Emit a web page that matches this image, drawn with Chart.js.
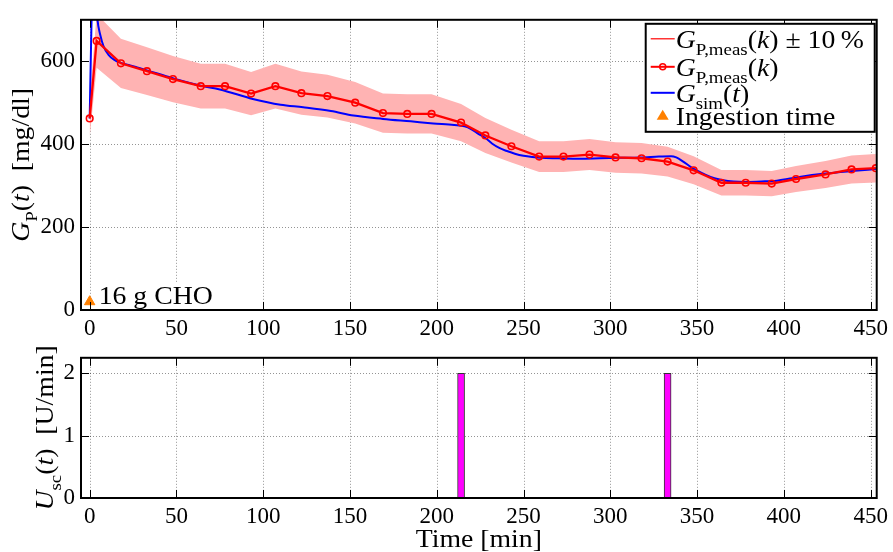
<!DOCTYPE html>
<html>
<head>
<meta charset="utf-8">
<script src="https://cdn.jsdelivr.net/npm/chart.js@4.4.1/dist/chart.umd.min.js"></script>
<style>
  html, body { margin: 0; padding: 0; background: #fff; }
  #glucose { position: absolute; left: 0; top: 0; }
  #insulin { position: absolute; left: 0; top: 338px; }
</style>
</head>
<body>
<canvas id="glucose" width="893" height="338"></canvas>
<canvas id="insulin" width="893" height="214"></canvas>
<script>
// measured plasma glucose, sampled roughly every 15 min
const measTime = [0, 4, 18, 33, 48, 64, 78, 93, 107, 122, 137, 153, 169, 183, 197, 214,
  228, 243, 259, 273, 288, 303, 318, 333, 348, 364, 378, 393, 407, 424, 439, 453];
const measValue = [462, 649, 595, 576, 557, 540, 540, 522, 540, 523, 516, 500, 475, 473, 473, 452,
  421, 395, 370, 370, 375, 368, 366, 358, 337, 307, 307, 305, 316, 327, 339, 342];

// simulated glucose curve
const simTime = [0, 0.8, 1.6, 2.5, 3.5, 4.5, 6, 8, 11, 14, 18, 25, 33, 48, 64, 75, 94, 110, 123,
  139, 152, 169, 185, 198, 210, 216, 220, 224, 228, 232, 236, 240, 245, 250, 255, 260, 270, 282,
  294, 305, 317, 328, 335, 338, 342, 346, 350, 355, 360, 365, 371, 378, 387, 396, 409, 424, 439, 453];
const simValue = [462, 640, 780, 800, 760, 700, 665, 636, 615, 604, 596, 588, 578, 559, 541, 532,
  509, 495, 489, 480, 469, 461, 455, 450, 446, 443, 436, 425, 415, 401, 391, 384, 377, 372, 369,
  367, 366, 365, 366, 367, 368, 370, 371, 368, 358, 346, 336, 326, 318, 313, 310, 309, 310, 312,
  321, 329, 335, 340];

// meal
const ingestTime = [0];
const ingestValue = [20];
const ingestLabel = '16 g CHO';

// subcutaneous insulin boluses
const insulinTime = [214, 333];
const insulinRate = [2, 2];

const xTicks = [0, 50, 100, 150, 200, 250, 300, 350, 400, 450];
const glucoseTicks = [0, 200, 400, 600];
const rateTicks = [0, 1, 2];

const SERIF = '"Liberation Serif", "Times New Roman", serif';
const STRETCH = 1.11;
const pts = (xs, ys, k = 1) => xs.map((t, i) => ({ x: t, y: ys[i] * k }));

// text with italic parts and subscripts: [text, 'r' | 'i' | 's'], a little widened
function setFont(ctx, style, size) {
  const s = style === 's' ? Math.round(size * 0.68) : size;
  ctx.font = (style === 'i' ? 'italic ' : '') + s + 'px ' + SERIF;
}
function richWidth(ctx, parts, size) {
  return parts.reduce((w, [t, st]) => { setFont(ctx, st, size); return w + ctx.measureText(t).width * STRETCH; }, 0);
}
function drawRich(ctx, parts, x, y, size) {
  let cx = x;
  parts.forEach(([t, st]) => {
    setFont(ctx, st, size);
    ctx.save();
    ctx.translate(cx, st === 's' ? y + size * 0.3 : y);
    ctx.scale(STRETCH, 1);
    ctx.fillText(t, 0, 0);
    ctx.restore();
    cx += ctx.measureText(t).width * STRETCH;
  });
}

// dotted grid under the data, inward ticks and a box over it
const frameAndTicks = {
  id: 'frameAndTicks',
  beforeDatasetsDraw(chart) {
    const { ctx, chartArea: a, scales: { x, y } } = chart;
    ctx.save();
    ctx.strokeStyle = 'rgba(0,0,0,0.42)';
    ctx.lineWidth = 1;
    ctx.setLineDash([1, 2]);
    ctx.beginPath();
    x.ticks.forEach((t) => {
      const px = Math.round(x.getPixelForValue(t.value)) + 0.5;
      ctx.moveTo(px, a.top); ctx.lineTo(px, a.bottom);
    });
    y.ticks.forEach((t) => {
      const py = Math.round(y.getPixelForValue(t.value)) + 0.5;
      ctx.moveTo(a.left, py); ctx.lineTo(a.right, py);
    });
    ctx.stroke();
    ctx.restore();
  },
  afterDatasetsDraw(chart) {
    const { ctx, chartArea: a, scales: { x, y } } = chart;
    ctx.save();
    ctx.strokeStyle = '#000';
    ctx.lineWidth = 1;
    ctx.beginPath();
    x.ticks.forEach((t) => {
      const px = Math.round(x.getPixelForValue(t.value)) + 0.5;
      ctx.moveTo(px, a.bottom); ctx.lineTo(px, a.bottom - 8);
      ctx.moveTo(px, a.top); ctx.lineTo(px, a.top + 8);
    });
    y.ticks.forEach((t) => {
      const py = Math.round(y.getPixelForValue(t.value)) + 0.5;
      ctx.moveTo(a.left, py); ctx.lineTo(a.left + 8, py);
      ctx.moveTo(a.right, py); ctx.lineTo(a.right - 8, py);
    });
    ctx.stroke();
    ctx.lineWidth = 2;
    ctx.strokeRect(a.left, a.top, a.right - a.left, a.bottom - a.top);
    ctx.restore();
  },
};

const yTitle = (parts, baseX) => ({
  id: 'yTitle',
  afterDraw(chart) {
    const { ctx, chartArea: a } = chart;
    const size = 25;
    ctx.save();
    ctx.fillStyle = '#000';
    ctx.textBaseline = 'alphabetic';
    ctx.translate(baseX, (a.top + a.bottom) / 2);
    ctx.rotate(-Math.PI / 2);
    drawRich(ctx, parts, -richWidth(ctx, parts, size) / 2, 0, size);
    ctx.restore();
  },
});

const xTitle = (text, baseY) => ({
  id: 'xTitle',
  afterDraw(chart) {
    const { ctx, chartArea: a } = chart;
    const parts = [[text, 'r']];
    ctx.save();
    ctx.fillStyle = '#000';
    drawRich(ctx, parts, (a.left + a.right) / 2 - richWidth(ctx, parts, 25) / 2, baseY, 25);
    ctx.restore();
  },
});

// meal note and the boxed legend of the glucose panel
const glucoseNotes = {
  id: 'glucoseNotes',
  afterDraw(chart) {
    const { ctx, chartArea: a, scales: { x } } = chart;
    ctx.save();
    const tx = x.getPixelForValue(ingestTime[0]) + 9;
    const note = [[ingestLabel, 'r']];
    const w = richWidth(ctx, note, 25);
    ctx.fillStyle = '#fff';
    ctx.fillRect(tx - 2, a.bottom - 27, w + 4, 26);
    ctx.fillStyle = '#000';
    drawRich(ctx, note, tx, a.bottom - 6, 25);

    const bx = a.right - 231, by = a.top + 4, bw = 229, bh = 108;
    ctx.fillStyle = '#fff';
    ctx.fillRect(bx, by, bw, bh);
    ctx.strokeStyle = '#000';
    ctx.lineWidth = 2;
    ctx.strokeRect(bx, by, bw, bh);

    const rows = [
      { parts: [['G', 'i'], ['P,meas', 's'], ['(', 'r'], ['k', 'i'], [')', 'r'], [' \u00b1 10\u2009%', 'r']], base: 24, kind: 'band' },
      { parts: [['G', 'i'], ['P,meas', 's'], ['(', 'r'], ['k', 'i'], [')', 'r']], base: 52, kind: 'meas' },
      { parts: [['G', 'i'], ['sim', 's'], ['(', 'r'], ['t', 'i'], [')', 'r']], base: 78, kind: 'sim' },
      { parts: [['Ingestion time', 'r']], base: 101, kind: 'ingest' },
    ];
    rows.forEach((r) => {
      const cy = by + r.base - 9;
      const l0 = bx + 5, l1 = bx + 29, lm = (l0 + l1) / 2;
      if (r.kind !== 'ingest') {
        ctx.beginPath();
        ctx.moveTo(l0, cy); ctx.lineTo(l1, cy);
        ctx.strokeStyle = r.kind === 'sim' ? '#0000ff' : '#ff0000';
        ctx.lineWidth = r.kind === 'band' ? 1.2 : 2;
        ctx.stroke();
      }
      if (r.kind === 'meas') {
        ctx.beginPath();
        ctx.arc(lm, cy, 3, 0, Math.PI * 2);
        ctx.lineWidth = 1.5;
        ctx.stroke();
      }
      if (r.kind === 'ingest') {
        ctx.beginPath();
        ctx.moveTo(lm, cy - 6); ctx.lineTo(lm + 6, cy + 4); ctx.lineTo(lm - 6, cy + 4);
        ctx.closePath();
        ctx.fillStyle = '#ff8000';
        ctx.fill();
      }
      ctx.fillStyle = '#000';
      drawRich(ctx, r.parts, l1 + 1, by + r.base, 25);
    });
    ctx.restore();
  },
};

const xAxis = (height) => ({
  type: 'linear',
  min: -5,
  max: 453.5,
  offset: false,
  afterBuildTicks: (s) => { s.ticks = xTicks.map((v) => ({ value: v })); },
  afterFit: (s) => { s.height = height; },
  border: { display: false },
  grid: { display: false, drawTicks: false, offset: false },
  ticks: { color: '#000', font: { family: SERIF, size: 23 }, padding: 5, maxRotation: 0 },
});
const yAxis = (min, max, tickList) => ({
  min, max,
  afterBuildTicks: (s) => { s.ticks = tickList.map((v) => ({ value: v })); },
  afterFit: (s) => { s.width = 81; },
  border: { display: false },
  grid: { display: false, drawTicks: false },
  ticks: { color: '#000', font: { family: SERIF, size: 23 }, padding: 6 },
});

new Chart(document.getElementById('glucose'), {
  type: 'line',
  data: {
    datasets: [
      {
        data: pts(measTime, measValue),
        borderColor: '#ff0000', borderWidth: 2.3,
        pointStyle: 'circle', pointRadius: 3.3, pointBorderWidth: 1.6,
        pointBorderColor: '#ff0000', pointBackgroundColor: 'rgba(255,255,255,0)',
        fill: false,
      },
      {
        data: pts(simTime, simValue),
        borderColor: '#0000ff', borderWidth: 2,
        pointRadius: 0, cubicInterpolationMode: 'monotone', fill: false,
      },
      {
        data: pts(ingestTime, ingestValue),
        showLine: false, pointStyle: 'triangle', pointRadius: 6,
        pointBackgroundColor: '#ff8000', pointBorderColor: '#ff8000',
      },
      {
        data: pts(measTime, measValue, 1.1),
        borderWidth: 0, pointRadius: 0, backgroundColor: '#ffb3b3', fill: '+1',
      },
      {
        data: pts(measTime, measValue, 0.9),
        borderWidth: 0, pointRadius: 0, fill: false,
      },
    ],
  },
  options: {
    responsive: false,
    animation: false,
    devicePixelRatio: 1,
    layout: { padding: { top: 15, right: 15, left: 0, bottom: 0 } },
    scales: { x: xAxis(28), y: yAxis(0, 700, glucoseTicks) },
    plugins: { legend: { display: false }, tooltip: { enabled: false } },
  },
  plugins: [frameAndTicks, glucoseNotes,
    yTitle([['G', 'i'], ['P', 's'], ['(', 'r'], ['t', 'i'], [')', 'r'], ['  [mg/dl]', 'r']], 29)],
});

new Chart(document.getElementById('insulin'), {
  type: 'bar',
  data: {
    datasets: [{
      data: pts(insulinTime, insulinRate),
      backgroundColor: '#ff00ff', borderColor: '#333', borderWidth: 1,
      barThickness: 7,
    }],
  },
  options: {
    responsive: false,
    animation: false,
    devicePixelRatio: 1,
    layout: { padding: { top: 14, right: 15, left: 0, bottom: 0 } },
    scales: { x: xAxis(54), y: yAxis(0, 2.25, rateTicks) },
    plugins: { legend: { display: false }, tooltip: { enabled: false } },
  },
  plugins: [frameAndTicks, xTitle('Time [min]', 209),
    yTitle([['U', 'i'], ['sc', 's'], ['(', 'r'], ['t', 'i'], [')', 'r'], ['  [U/min]', 'r']], 53)],
});
</script>
</body>
</html>
